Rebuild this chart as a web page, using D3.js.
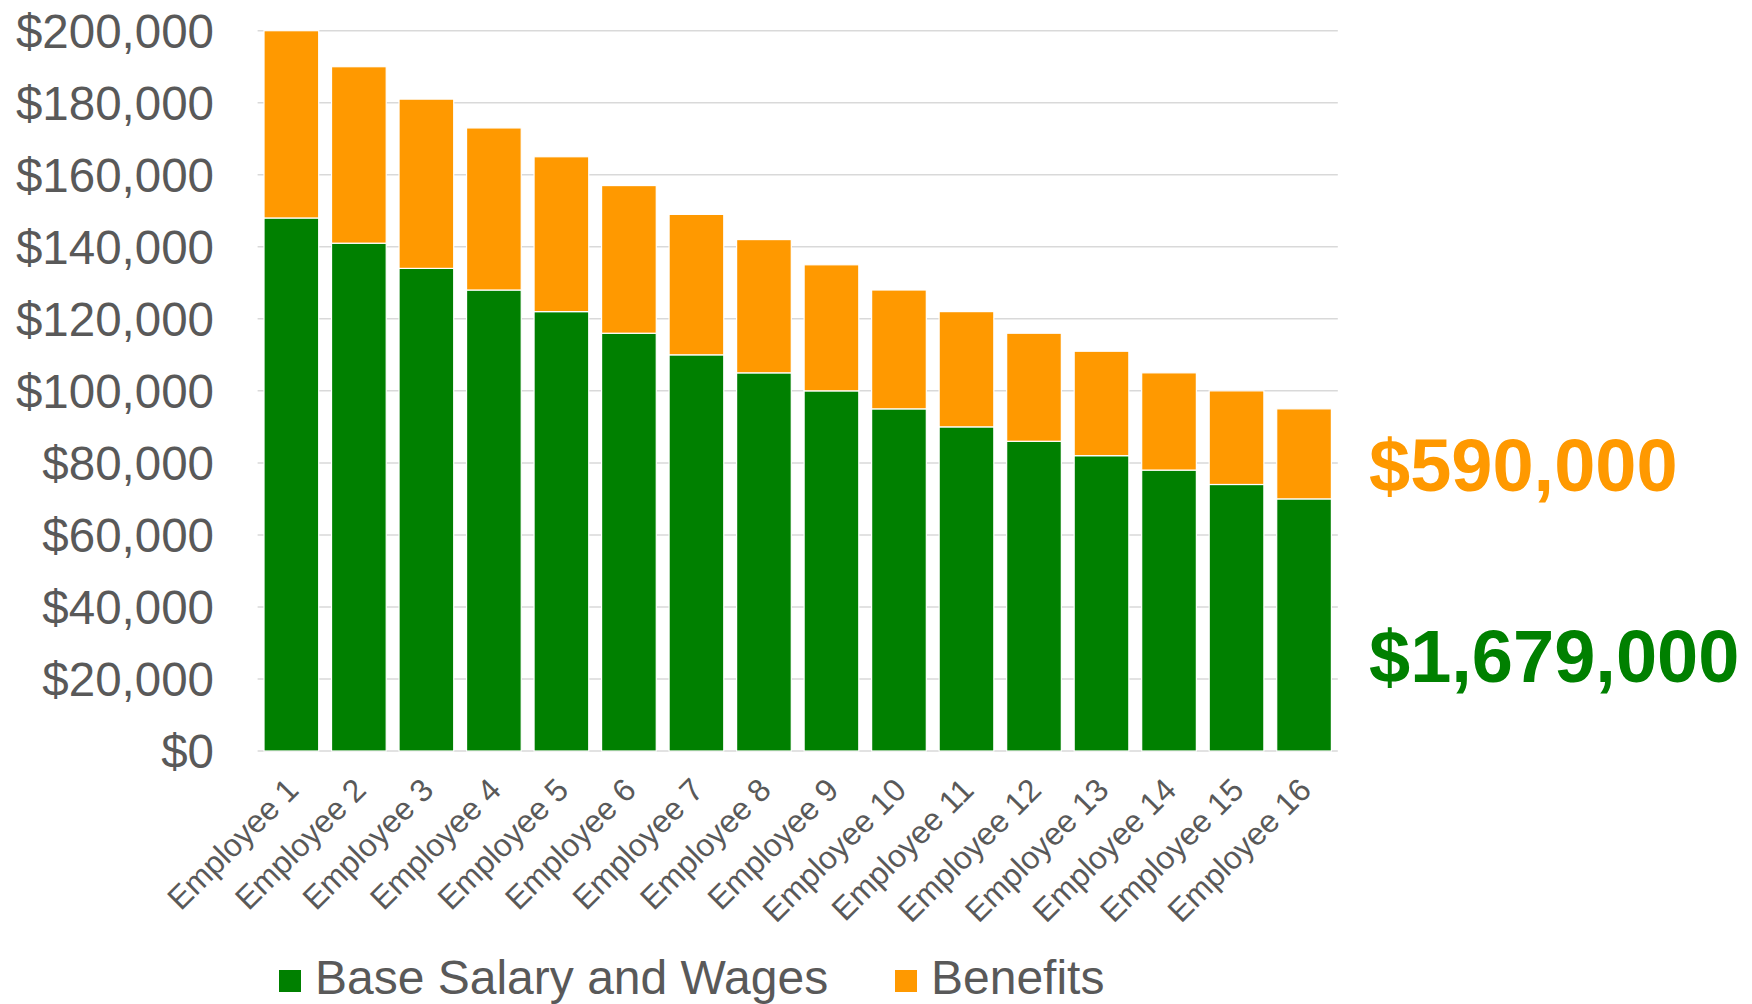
<!DOCTYPE html>
<html>
<head>
<meta charset="utf-8">
<script src="https://cdn.jsdelivr.net/npm/d3@7"></script>
<style>
  body { margin: 0; background: #fff; }
  text { font-family: "Liberation Sans", Arial, sans-serif; }
</style>
</head>
<body>
<div id="svg-container"></div>
<script>
// chart data
const employees = ["Employee 1", "Employee 2", "Employee 3", "Employee 4", "Employee 5",
  "Employee 6", "Employee 7", "Employee 8", "Employee 9", "Employee 10", "Employee 11",
  "Employee 12", "Employee 13", "Employee 14", "Employee 15", "Employee 16"];
const baseSalary = [148000, 141000, 134000, 128000, 122000, 116000, 110000, 105000,
  100000, 95000, 90000, 86000, 82000, 78000, 74000, 70000];
const benefits = [52000, 49000, 47000, 45000, 43000, 41000, 39000, 37000,
  35000, 33000, 32000, 30000, 29000, 27000, 26000, 25000];
const seriesNames = ["Base Salary and Wages", "Benefits"];
const yTicks = [0, 20000, 40000, 60000, 80000, 100000, 120000, 140000, 160000, 180000, 200000];

const colors = { base: "#008000", benefits: "#FF9900" };
const labelColor = "#595959";

const width = 1752,
  height = 1004,
  plotLeft = 257.6,
  plotRight = 1337.8,
  plotTop = 30.7,
  plotBottom = 751;

const svg = d3.select("#svg-container").append("svg")
  .attr("width", width)
  .attr("height", height);

const x = d3.scaleBand()
  .domain(employees)
  .range([plotLeft, plotRight])
  .paddingInner(0.19)
  .paddingOuter(0.095);

const y = d3.scaleLinear()
  .domain([0, 200000])
  .range([plotBottom, plotTop]);

// gridlines
svg.append("g")
  .selectAll("line")
  .data(yTicks)
  .join("line")
  .attr("x1", plotLeft)
  .attr("x2", plotRight)
  .attr("y1", d => y(d))
  .attr("y2", d => y(d))
  .attr("stroke", "#d9d9d9")
  .attr("stroke-width", 1.5);

// y axis labels
const fmt = d3.format("$,");
svg.append("g")
  .selectAll("text")
  .data(yTicks)
  .join("text")
  .attr("x", 214)
  .attr("y", d => y(d))
  .attr("dy", "0.36em")
  .attr("text-anchor", "end")
  .attr("font-size", 47.5)
  .attr("fill", labelColor)
  .text(d => fmt(d));

// stacked bars
const rows = employees.map((name, i) => ({ name: name, base: baseSalary[i], benefits: benefits[i] }));
const stacked = d3.stack().keys(["base", "benefits"])(rows);

svg.append("g")
  .selectAll("g")
  .data(stacked)
  .join("g")
  .attr("fill", s => colors[s.key])
  .selectAll("rect")
  .data(s => s)
  .join("rect")
  .attr("x", d => x(d.data.name))
  .attr("width", x.bandwidth())
  .attr("y", d => y(d[1]))
  .attr("height", d => y(d[0]) - y(d[1]))
  .attr("stroke", "#fff")
  .attr("stroke-width", 1.2);

// x axis labels, rotated
svg.append("g")
  .selectAll("text")
  .data(employees)
  .join("text")
  .attr("transform", d => `translate(${x(d) + x.bandwidth() / 2 + 9},${plotBottom + 41}) rotate(-45)`)
  .attr("text-anchor", "end")
  .attr("font-size", 32)
  .attr("fill", labelColor)
  .text(d => d);

// totals on the right
const totalBenefits = d3.sum(benefits);
const totalBase = d3.sum(baseSalary);
svg.append("text")
  .attr("x", 1369)
  .attr("y", 491)
  .attr("font-size", 74)
  .attr("font-weight", "bold")
  .attr("fill", colors.benefits)
  .text(fmt(totalBenefits));
svg.append("text")
  .attr("x", 1369)
  .attr("y", 682)
  .attr("font-size", 74)
  .attr("font-weight", "bold")
  .attr("fill", colors.base)
  .text(fmt(totalBase));

// legend
const legendX = [279, 895];
const legend = svg.append("g")
  .selectAll("g")
  .data(seriesNames)
  .join("g")
  .attr("transform", (d, i) => `translate(${legendX[i]},970)`);
legend.append("rect")
  .attr("width", 22)
  .attr("height", 22)
  .attr("fill", (d, i) => i === 0 ? colors.base : colors.benefits);
legend.append("text")
  .attr("x", 36)
  .attr("y", 24)
  .attr("font-size", 48)
  .attr("fill", labelColor)
  .text(d => d);
</script>
</body>
</html>
